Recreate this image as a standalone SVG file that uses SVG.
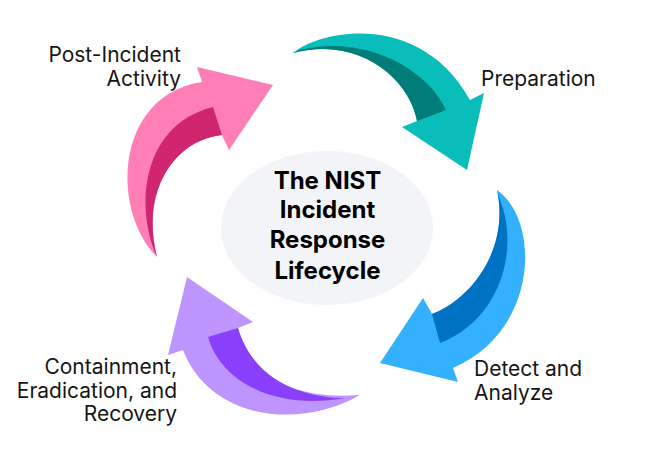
<svg xmlns="http://www.w3.org/2000/svg" width="647" height="461" viewBox="0 0 647 461">
<style>
.lbl{font-family:Inter,"Noto Sans","Liberation Sans",sans-serif;font-size:21px;fill:#161616}
.ttl{font-family:Inter,"Noto Sans","Liberation Sans",sans-serif;font-size:24px;font-weight:700;fill:#000;text-anchor:middle}
</style>
<rect width="647" height="461" fill="#fff"/>
<g id="center">
<ellipse cx="327" cy="228" rx="106" ry="77" fill="#F2F4F8"/>
<text class="ttl"><tspan x="327.5" y="189">The NIST</tspan><tspan x="327.5" y="218">Incident</tspan><tspan x="327.5" y="248">Response</tspan><tspan x="327.5" y="279">Lifecycle</tspan></text>
</g>
<g id="connectors">
<g id="arrow-preparation">
<path d="M293,53 C320,30 420,10 470,100 L484,93 L467,170 L402,127 L417,121 C410,80 360,35 293,53 Z" fill="#08BDBA"/>
<path d="M300,50 C360,35 425,65 446,110 L417,121 C410,80 360,35 293,53 Z" fill="#007D79"/>
</g>
<g id="arrow-detect">
<path d="M497,190 C540,220 540,330 453,368 L458,382 L380,363 L423,298 L432,314 C470,300 510,250 497,190 Z" fill="#33B1FF"/>
<path d="M500,200 C520,250 500,320 440,343 L432,314 C470,300 510,250 497,190 Z" fill="#0072C3"/>
</g>
<g id="arrow-contain">
<path d="M360,395 C300,430 210,420 183,350 L168,355 L187,277 L253,322 L238,328 C250,380 300,400 360,395 Z" fill="#BE95FF"/>
<path d="M208,337 C222,385 280,410 345,398 C310,398 255,385 238,328 Z" fill="#8A3FFC"/>
</g>
<g id="arrow-post">
<path d="M157,257 C110,210 115,95 202,82 L197,67 L273,85 L229,150 L222,135 C175,140 140,190 157,257 Z" fill="#FF7EB6"/>
<path d="M213,107 L222,135 C175,140 140,190 157,257 C135,210 140,125 213,107 Z" fill="#D02670"/>
</g>
</g>
<g id="label-preparation"><text class="lbl" x="481" y="86">Preparation</text></g>
<g id="label-detect"><text class="lbl" x="474" y="376">Detect and</text><text class="lbl" x="474" y="400">Analyze</text></g>
<g id="label-contain"><text class="lbl" text-anchor="end" x="177" y="374">Containment,</text><text class="lbl" text-anchor="end" x="177" y="398">Eradication, and</text><text class="lbl" text-anchor="end" x="177" y="421">Recovery</text></g>
<g id="label-post"><text class="lbl" text-anchor="end" x="181" y="62">Post-Incident</text><text class="lbl" text-anchor="end" x="181" y="86">Activity</text></g>
</svg>
